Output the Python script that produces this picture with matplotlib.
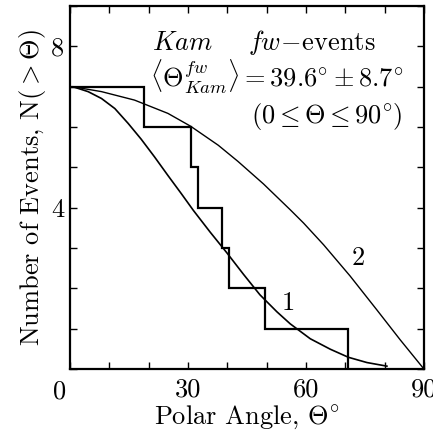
import matplotlib
matplotlib.use("Agg")
import matplotlib.pyplot as plt

plt.rcParams['font.family'] = 'cmr10'
plt.rcParams['mathtext.fontset'] = 'cm'
plt.rcParams['axes.unicode_minus'] = False
plt.rcParams['axes.formatter.use_mathtext'] = True

# event angles (step function N(>theta))
event_angles = [18.8, 30.7, 32.6, 38.7, 40.4, 49.6, 70.8]
n_events = 7

# curve 1
c1_x = [0, 0.8, 4.6, 8.0, 11.4, 14.8, 18.1, 21.5, 24.9, 28.3, 31.4, 35.6, 39.9, 44.1, 48.3,
        52.6, 56.0, 61.1, 66.2, 70.8, 75.5, 80.6]
c1_y = [7.0, 7.0, 6.88, 6.71, 6.46, 6.09, 5.70, 5.26, 4.80, 4.35, 3.93, 3.40, 2.88, 2.35, 1.84,
        1.42, 1.12, 0.75, 0.49, 0.29, 0.16, 0.07]

# curve 2
c2_x = [0, 0.8, 8.0, 16.4, 24.9, 30.7, 37.7, 42.7, 49.2, 56.0, 59.4, 64.5, 71.2, 78.0, 84.0, 90.0]
c2_y = [7.0, 7.0, 6.88, 6.67, 6.34, 6.02, 5.55, 5.15, 4.59, 3.95, 3.62, 3.08, 2.31, 1.47, 0.72, 0.0]

xticks_major = [0, 30, 60, 90]
yticks_major = [4, 8]

FS = 19

fig = plt.figure(figsize=(4.33, 4.40), dpi=100)
ax = fig.add_axes([0.1617, 0.1614, 0.979 - 0.1617, 0.986 - 0.1614])

# step function
sx = [0]
sy = [n_events]
level = n_events
for a in event_angles:
    sx += [a, a]
    sy += [level, level - 1]
    level -= 1
ax.plot(sx, sy, color='black', lw=1.6, solid_joinstyle='miter')

ax.plot(c1_x, c1_y, color='black', lw=1.2)
ax.plot(c2_x, c2_y, color='black', lw=1.0)

ax.set_xlim(0, 90)
ax.set_ylim(0, 9)

ax.set_xticks(xticks_major)
ax.set_xticklabels(['', '30', '60', '90'])
ax.set_xticks(range(0, 91, 10), minor=True)
ax.set_yticks(yticks_major)
ax.set_yticklabels(['4', '8'])
ax.set_yticks(range(0, 10, 1), minor=True)

ax.tick_params(which='both', direction='in', top=True, right=True, length=5, width=1.0)
ax.tick_params(axis='x', which='major', labelsize=FS, pad=6)
ax.tick_params(axis='y', which='major', labelsize=FS, pad=4)
for s in ax.spines.values():
    s.set_linewidth(1.6)

ax.text(-0.03, -0.03, '0', transform=ax.transAxes, fontsize=FS, ha='center', va='top')

ax.set_xlabel(r'Polar Angle, $\Theta^{\circ}$', fontsize=FS, labelpad=2)
ax.set_ylabel(r'Number of Events, N$(>\Theta)$', fontsize=FS, labelpad=2)

ax.text(20.9, 7.91, r'$Kam$', fontsize=FS, ha='left', va='baseline')
ax.text(77.6, 7.91, r'$fw\!-\!\mathrm{events}$', fontsize=FS, ha='right', va='baseline')
ax.text(84.7, 6.99, r'$\langle\Theta^{fw}_{Kam}\rangle = 39.6^{\circ} \pm 8.7^{\circ}$', fontsize=FS,
        ha='right', va='baseline')
ax.text(84.5, 6.09, r'$(0 \leq \Theta \leq 90^{\circ})$', fontsize=FS, ha='right', va='baseline')

ax.text(55.5, 1.64, '1', fontsize=FS, ha='center', va='center')
ax.text(73.3, 2.74, '2', fontsize=FS, ha='center', va='center')

fig.savefig('out.png', dpi=100)
